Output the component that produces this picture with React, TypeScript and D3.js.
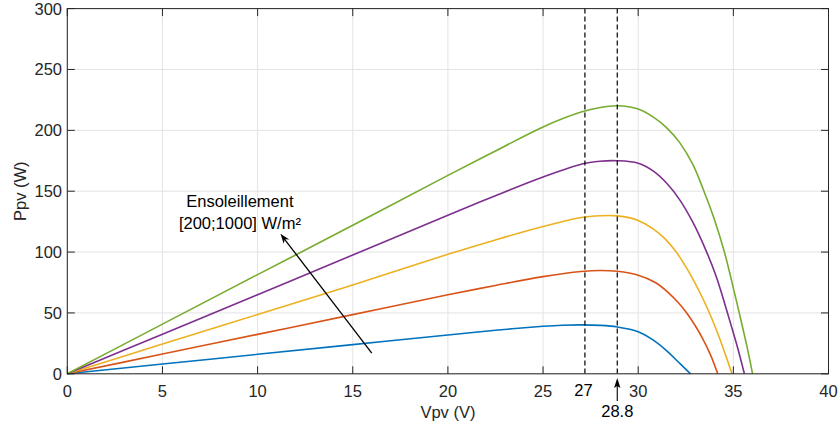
import React from "react";
import * as d3 from "d3";

// Voltage samples (V) and power (W) for each irradiance level
const blueV = [0, 5, 10, 15, 20, 22.5, 25, 26, 27, 28, 28.9, 30, 30.8, 31.5, 32.2, 32.75];
const blueP = [0, 8, 16, 24, 31.9, 35.8, 39.0, 39.9, 40.2, 39.8, 38.5, 34.6, 27.6, 18.8, 8.3, 0];

const orangeV = [0, 5, 10, 15, 20, 22.5, 25, 27, 28, 28.9, 30, 30.9, 31.6, 32.1, 32.55, 33.0, 33.4, 33.8, 34.18];
const orangeP = [0, 16.2, 32.4, 48.6, 64.9, 72.6, 79.8, 84.0, 84.9, 84.2, 81, 75, 66.5, 58.5, 50, 39.5, 28.5, 15.5, 0];

const yellowV = [0, 5, 10, 15, 20, 22.5, 25, 27, 28, 28.9, 30, 30.8, 31.4, 32.0, 32.5, 33.0, 33.45, 33.85, 34.23, 34.6, 34.93];
const yellowP = [0, 24.4, 48.7, 73, 98.2, 110, 121, 128.4, 129.8, 129.7, 126, 118.8, 111, 100, 88, 74, 60, 46, 31, 15, 0];

const purpleV = [0, 5, 10, 15, 20, 22.5, 25, 27, 28, 28.9, 30, 30.8, 31.5, 32.2, 32.87, 33.57, 34.1, 34.5, 34.88, 35.25, 35.58];
const purpleP = [0, 32.5, 65, 97.5, 130.3, 146.3, 161.6, 172.2, 174.6, 175, 173, 166.5, 156.5, 142.5, 124.5, 101, 80, 60, 40, 20, 0];

const greenV = [0, 5, 10, 15, 20, 22.5, 25, 27, 28, 28.9, 30, 30.8, 31.5, 32.2, 32.87, 33.43, 34.0, 34.53, 34.9, 35.31, 35.7, 36.01];
const greenP = [0, 40.8, 81.5, 122, 163, 183, 202.8, 215, 218.8, 220.2, 217.5, 210.8, 202, 189.5, 172, 151, 127, 100, 77, 50, 23.5, 0];

const seriesColors = ["#0072BD", "#D95319", "#EDB120", "#7E2F8E", "#77AC30"];

const xTicks = [0, 5, 10, 15, 20, 25, 30, 35, 40];
const yTicks = [0, 50, 100, 150, 200, 250, 300];

const dashedX = [27.2, 28.9];
const dashedLabels = ["27", "28.8"];

const annotationLines = ["Ensoleillement", "[200;1000] W/m²"];
const annotationPos = [9.07, 137.2]; // V, P of first text baseline
const arrowFrom = [16, 17];
const arrowTo = [11.2, 115];

export default function App() {
  const W = 839;
  const H = 428;
  const x = d3.scaleLinear().domain([0, 40]).range([67.3, 828.5]);
  const y = d3.scaleLinear().domain([0, 300]).range([373.8, 8.6]);

  const series = [
    { v: blueV, p: blueP },
    { v: orangeV, p: orangeP },
    { v: yellowV, p: yellowP },
    { v: purpleV, p: purpleP },
    { v: greenV, p: greenP },
  ];

  const line = d3
    .line<[number, number]>()
    .x((d) => x(d[0]))
    .y((d) => y(d[1]))
    .curve(d3.curveCatmullRom.alpha(0.5));

  const axisColor = "#262626";
  const font = "'Liberation Sans', Arial, sans-serif";
  const fs = 16.5;

  const x0 = x(0), x1 = x(40), y0 = y(0), y1 = y(300);

  const ax = x(arrowFrom[0]), ay = y(arrowFrom[1]);
  const bx = x(arrowTo[0]), by = y(arrowTo[1]);
  const ang = Math.atan2(by - ay, bx - ax);
  const hl = 10, hw = 3.5;
  const head = [
    [bx, by],
    [bx - hl * Math.cos(ang) + hw * Math.sin(ang), by - hl * Math.sin(ang) - hw * Math.cos(ang)],
    [bx - 0.7 * hl * Math.cos(ang), by - 0.7 * hl * Math.sin(ang)],
    [bx - hl * Math.cos(ang) - hw * Math.sin(ang), by - hl * Math.sin(ang) + hw * Math.cos(ang)],
  ];

  const lx = x(dashedX[1]);

  return (
    <svg width={W} height={H} style={{ position: "absolute", left: 0, top: 0, background: "#fff" }}>
      <rect x={0} y={0} width={W} height={H} fill="#fff" />
      {/* grid */}
      {xTicks.map((t) => (
        <line key={"gx" + t} x1={x(t)} x2={x(t)} y1={y0} y2={y1} stroke="#e3e3e3" strokeWidth={1} />
      ))}
      {yTicks.map((t) => (
        <line key={"gy" + t} x1={x0} x2={x1} y1={y(t)} y2={y(t)} stroke="#e3e3e3" strokeWidth={1} />
      ))}
      {/* curves */}
      {series.map((s, i) => (
        <path
          key={"s" + i}
          d={line(s.v.map((v, j) => [v, s.p[j]] as [number, number])) || ""}
          fill="none"
          stroke={seriesColors[i]}
          strokeWidth={1.6}
        />
      ))}
      {/* dashed lines */}
      {dashedX.map((d, i) => (
        <line key={"d" + i} x1={x(d)} x2={x(d)} y1={y1} y2={y0} stroke="#000" strokeWidth={1.2} strokeDasharray="5,3" />
      ))}
      {/* box */}
      <rect x={x0} y={y1} width={x1 - x0} height={y0 - y1} fill="none" stroke={axisColor} strokeWidth={1} />
      {/* ticks */}
      {xTicks.map((t) => (
        <g key={"tx" + t}>
          <line x1={x(t)} x2={x(t)} y1={y0} y2={y0 - 7.5} stroke={axisColor} strokeWidth={1} />
          <line x1={x(t)} x2={x(t)} y1={y1} y2={y1 + 7.5} stroke={axisColor} strokeWidth={1} />
          <text x={x(t)} y={396.5} textAnchor="middle" fontFamily={font} fontSize={fs} fill={axisColor}>
            {t}
          </text>
        </g>
      ))}
      {yTicks.map((t) => (
        <g key={"ty" + t}>
          <line x1={x0} x2={x0 + 7.5} y1={y(t)} y2={y(t)} stroke={axisColor} strokeWidth={1} />
          <line x1={x1} x2={x1 - 7.5} y1={y(t)} y2={y(t)} stroke={axisColor} strokeWidth={1} />
          <text x={62} y={y(t) + 6} textAnchor="end" fontFamily={font} fontSize={fs} fill={axisColor}>
            {t}
          </text>
        </g>
      ))}
      {/* axis labels */}
      <text x={(x0 + x1) / 2} y={418} textAnchor="middle" fontFamily={font} fontSize={fs} fill={axisColor}>
        Vpv (V)
      </text>
      <text
        transform={`translate(26,${(y0 + y1) / 2}) rotate(-90)`}
        textAnchor="middle"
        fontFamily={font}
        fontSize={fs}
        fill={axisColor}
      >
        Ppv (W)
      </text>
      {/* dashed labels */}
      <text x={583.5} y={396} textAnchor="middle" fontFamily={font} fontSize={fs} fill="#000">
        {dashedLabels[0]}
      </text>
      <line x1={lx} x2={lx} y1={401} y2={382} stroke="#000" strokeWidth={1.1} />
      <path d={`M${lx},378 L${lx - 3.2},388 L${lx},386 L${lx + 3.2},388 Z`} fill="#000" />
      <text x={lx} y={416.5} textAnchor="middle" fontFamily={font} fontSize={fs} fill="#000">
        {dashedLabels[1]}
      </text>
      {/* annotation */}
      {annotationLines.map((t, i) => (
        <text
          key={"a" + i}
          x={x(annotationPos[0])}
          y={y(annotationPos[1]) + i * 22}
          textAnchor="middle"
          fontFamily={font}
          fontSize={fs}
          fill="#000"
        >
          {t}
        </text>
      ))}
      <line x1={ax} y1={ay} x2={bx - 6 * Math.cos(ang)} y2={by - 6 * Math.sin(ang)} stroke="#000" strokeWidth={1.3} />
      <polygon points={head.map((p) => p.join(",")).join(" ")} fill="#000" />
    </svg>
  );
}
